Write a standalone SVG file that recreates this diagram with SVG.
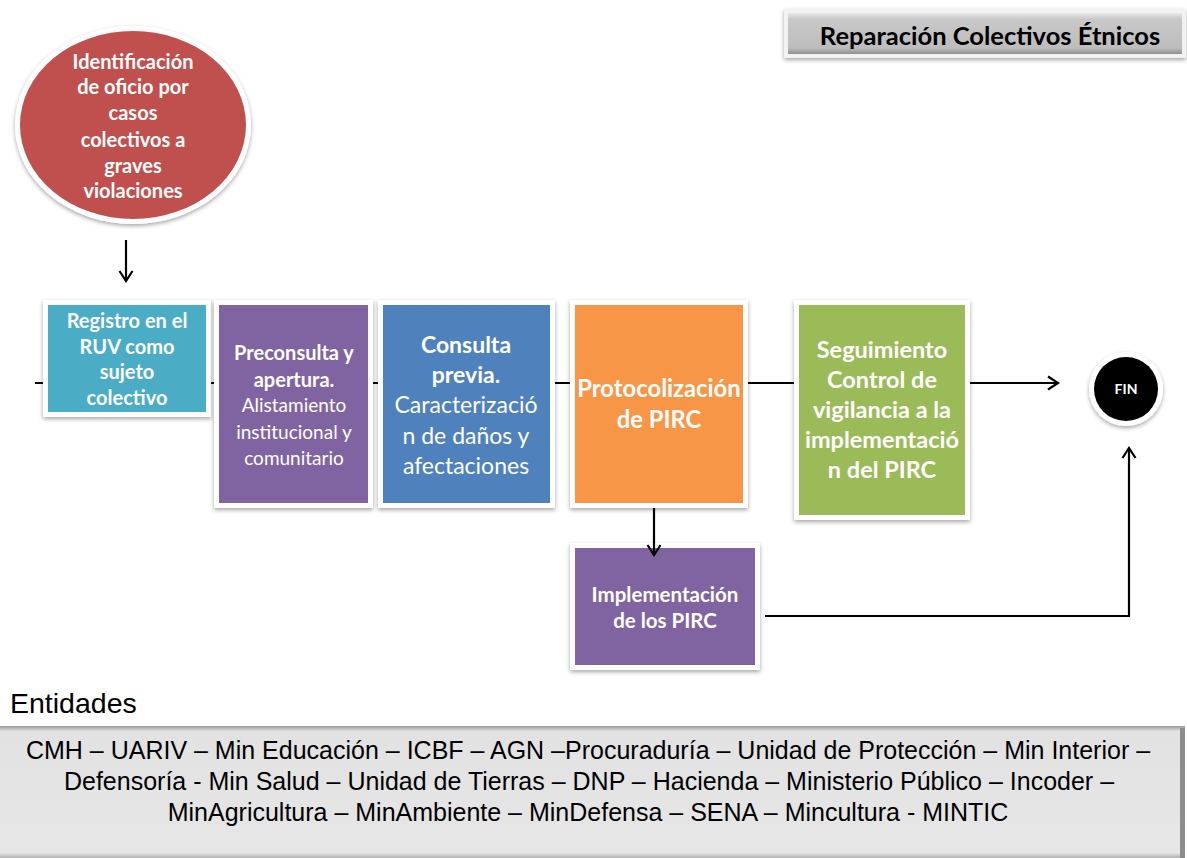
<svg xmlns="http://www.w3.org/2000/svg" width="1187" height="858" viewBox="0 0 1187 858">
<defs>
  <filter id="sh" x="-10%" y="-10%" width="120%" height="125%">
    <feDropShadow dx="0" dy="2" stdDeviation="2" flood-color="#000" flood-opacity="0.35"/>
  </filter>
  <linearGradient id="titleG" x1="0" y1="0" x2="0" y2="1">
    <stop offset="0" stop-color="#e8e8e8"/>
    <stop offset="0.15" stop-color="#c8c8c8"/>
    <stop offset="0.85" stop-color="#bdbdbd"/>
    <stop offset="1" stop-color="#8f8f8f"/>
  </linearGradient>
  <linearGradient id="entG" x1="0" y1="0" x2="0" y2="1">
    <stop offset="0" stop-color="#9a9a9a"/>
    <stop offset="0.04" stop-color="#e2e2e2"/>
    <stop offset="0.96" stop-color="#e6e6e6"/>
    <stop offset="1" stop-color="#b0b0b0"/>
  </linearGradient>
  <marker id="arr" markerWidth="16" markerHeight="16" refX="12" refY="8" orient="auto" markerUnits="userSpaceOnUse">
    <path d="M2,1.5 L12,8 L2,14.5" fill="none" stroke="#000" stroke-width="2.2"/>
  </marker>
  <style>
    .frame{fill:#fff;filter:url(#sh)}
    .wb{font-family:Lato,"Open Sans",sans-serif;font-weight:bold;fill:#fff;text-anchor:middle}
    .wr{font-family:Lato,"Open Sans",sans-serif;fill:#fff;text-anchor:middle}
    .conn{fill:none;stroke:#000;stroke-width:2.2}
    .ent{font-family:"Liberation Sans",Arial,sans-serif;font-size:25px;fill:#000;text-anchor:middle}
  </style>
</defs>
<rect width="1187" height="858" fill="#fff"/>

<g id="title">
  <rect x="784" y="9" width="402" height="49" fill="#f2f2f2" filter="url(#sh)"/>
  <rect x="788" y="13" width="394" height="41" fill="url(#titleG)"/>
  <text x="990" y="45" font-family="Lato,'Open Sans',sans-serif" font-weight="bold" font-size="25.5" fill="#000" text-anchor="middle">Reparación Colectivos Étnicos</text>
</g>

<g id="n-identificacion">
  <ellipse cx="133" cy="125" rx="118" ry="99" fill="#fff" filter="url(#sh)"/>
  <ellipse cx="133" cy="125" rx="113" ry="94" fill="#c0504d"/>
  <text class="wb" font-size="20"><tspan x="133" y="69">Identificación</tspan><tspan x="133" y="94">de oficio por</tspan><tspan x="133" y="120">casos</tspan><tspan x="133" y="147">colectivos a</tspan><tspan x="133" y="173">graves</tspan><tspan x="133" y="198">violaciones</tspan></text>
</g>

<g id="n-registro">
  <rect class="frame" x="43" y="300" width="168" height="117"/>
  <rect x="48" y="305" width="158" height="107" fill="#4bacc6"/>
  <text class="wb" font-size="20"><tspan x="127" y="328">Registro en el</tspan><tspan x="127" y="354">RUV como</tspan><tspan x="127" y="379">sujeto</tspan><tspan x="127" y="405">colectivo</tspan></text>
</g>

<g id="n-preconsulta">
  <rect class="frame" x="214" y="300" width="159" height="208"/>
  <rect x="219" y="305" width="149" height="198" fill="#8064a2"/>
  <text class="wb" font-size="20"><tspan x="294" y="360">Preconsulta y</tspan><tspan x="294" y="387">apertura.</tspan></text>
  <text class="wr" font-size="19"><tspan x="294" y="412">Alistamiento</tspan><tspan x="294" y="439">institucional y</tspan><tspan x="294" y="465">comunitario</tspan></text>
</g>

<g id="n-consulta">
  <rect class="frame" x="378" y="300" width="177" height="208"/>
  <rect x="383" y="305" width="167" height="198" fill="#4f81bd"/>
  <text class="wb" font-size="23"><tspan x="466" y="353">Consulta</tspan><tspan x="466" y="383">previa.</tspan></text>
  <text class="wr" font-size="23"><tspan x="466" y="413">Caracterizació</tspan><tspan x="466" y="444">n de daños y</tspan><tspan x="466" y="474">afectaciones</tspan></text>
</g>

<g id="n-protocolizacion">
  <rect class="frame" x="570" y="300" width="178" height="208"/>
  <rect x="575" y="305" width="168" height="198" fill="#f79646"/>
  <text class="wb" font-size="23.8"><tspan x="659" y="397">Protocolización</tspan><tspan x="659" y="428">de PIRC</tspan></text>
</g>

<g id="n-seguimiento">
  <rect class="frame" x="794" y="300" width="176" height="220"/>
  <rect x="799" y="305" width="166" height="210" fill="#9bbb59"/>
  <text class="wb" font-size="23.5"><tspan x="882" y="358">Seguimiento</tspan><tspan x="882" y="388">Control de</tspan><tspan x="882" y="418">vigilancia a la</tspan><tspan x="882" y="448">implementació</tspan><tspan x="882" y="478">n del PIRC</tspan></text>
</g>

<g id="n-implementacion">
  <rect class="frame" x="570" y="543" width="190" height="127"/>
  <rect x="575" y="548" width="180" height="117" fill="#8064a2"/>
  <text class="wb" font-size="20.5"><tspan x="665" y="602">Implementación</tspan><tspan x="665" y="628">de los PIRC</tspan></text>
</g>

<g id="n-fin">
  <circle cx="1126" cy="389" r="37" fill="#fff" filter="url(#sh)"/>
  <circle cx="1126" cy="389" r="32" fill="#000"/>
  <text class="wb" font-size="14" x="1126" y="394">FIN</text>
</g>

<g id="connectors">
  <path class="conn" d="M35,383 H43 M211,383 H214 M373,383 H378 M555,383 H570 M748,383 H794"/>
  <path class="conn" d="M970,383 H1058" marker-end="url(#arr)"/>
  <path class="conn" d="M126,240 V281" marker-end="url(#arr)"/>
  <path class="conn" d="M654,508 V555" marker-end="url(#arr)"/>
  <path class="conn" d="M765,616 H1129 V448" marker-end="url(#arr)"/>
</g>

<g id="entidades">
  <text x="10" y="713" font-family="'Liberation Sans',Arial,sans-serif" font-size="28.5" fill="#000">Entidades</text>
  <rect x="0" y="726" width="1185" height="132" fill="url(#entG)"/>
  <rect x="1180" y="728" width="5" height="130" fill="#8c8c8c"/>
  <text class="ent" x="588" y="759">CMH – UARIV – Min Educación – ICBF – AGN –Procuraduría – Unidad de Protección – Min Interior –</text>
  <text class="ent" x="589" y="790">Defensoría -  Min Salud – Unidad de Tierras – DNP – Hacienda – Ministerio Público – Incoder –</text>
  <text class="ent" x="588" y="821">MinAgricultura – MinAmbiente – MinDefensa – SENA – Mincultura - MINTIC</text>
</g>
</svg>
